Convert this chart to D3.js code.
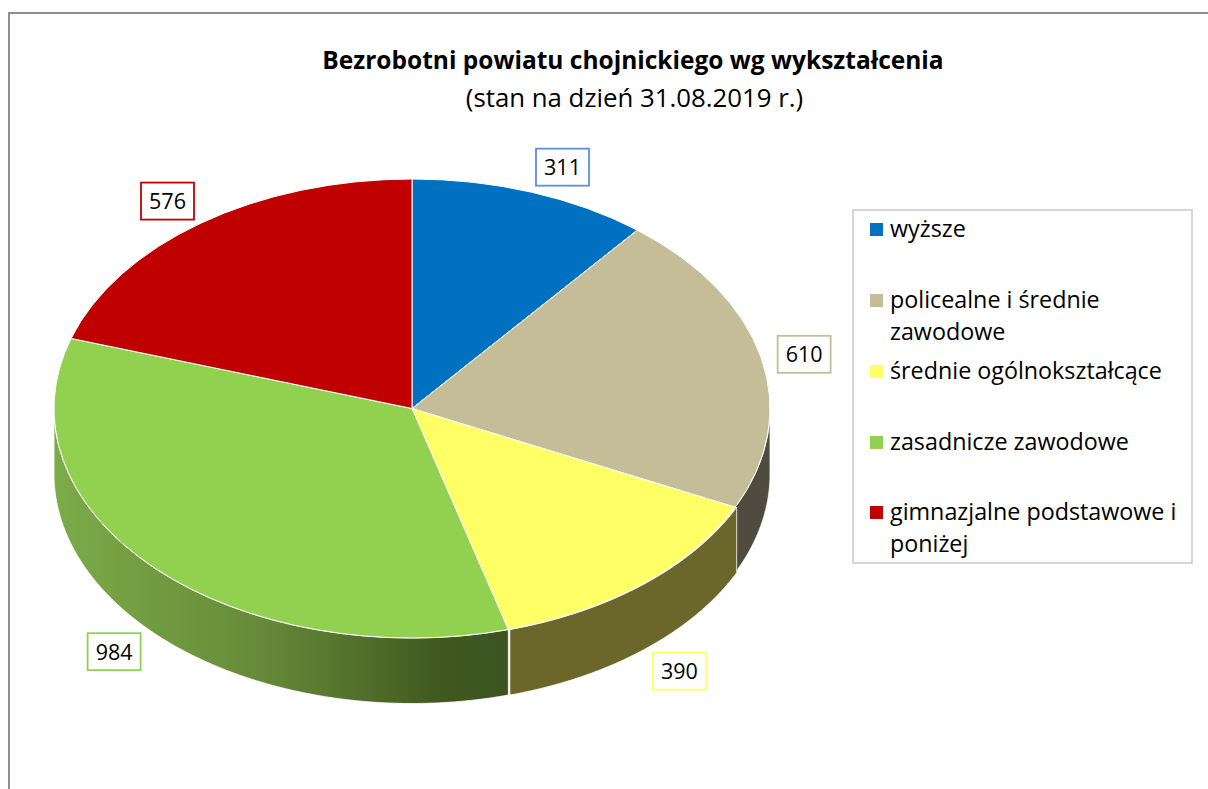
<!DOCTYPE html>
<html>
<head>
<meta charset="utf-8">
<style>
  html, body { margin: 0; background: #fff; }
  svg { display: block; font-family: "Open Sans", Lato, sans-serif; }
</style>
<script src="https://cdn.jsdelivr.net/npm/d3@7"></script>
</head>
<body>
<div id="chart-container"></div>
<script>
const categories = [
  'wyższe',
  'policealne i średnie zawodowe',
  'średnie ogólnokształcące',
  'zasadnicze zawodowe',
  'gimnazjalne podstawowe i poniżej'
];
const values = [311, 610, 390, 984, 576];
const topColors = ['#0070c0', '#c4bd97', '#ffff66', '#92d050', '#c00000'];
const labelBorders = ['#5b8fdb', '#c4bd97', '#ffff66', '#92d050', '#c00000'];
const legendLines = [
  ['wyższe'],
  ['policealne i średnie', 'zawodowe'],
  ['średnie ogólnokształcące'],
  ['zasadnicze zawodowe'],
  ['gimnazjalne podstawowe i', 'poniżej']
];

const width = 1208;
const height = 789;
const cx = 412;
const cy = 408.5;
const rx = 358;
const ry = 229.5;
const depth = 65.5;

const svg = d3.select('#chart-container')
    .append('svg')
    .attr('width', width)
    .attr('height', height);

// Frame runs off the right and bottom of the picture
svg.append('rect')
    .attr('x', 9)
    .attr('y', 13)
    .attr('width', width + 20)
    .attr('height', height + 20)
    .attr('fill', 'none')
    .attr('stroke', '#8f8f8f')
    .attr('stroke-width', 2);

displayTitle();

const slices = d3.pie().sort(null).value(d => d)(values);
const rimX = a => cx + rx * Math.sin(a);
const rimY = a => cy - ry * Math.cos(a);

displaySides();
displayTop();
displayLabels();
displayLegend();

function displayTitle() {
  svg.append('text')
      .text('Bezrobotni powiatu chojnickiego wg wykształcenia')
      .attr('x', 633)
      .attr('y', 69)
      .attr('text-anchor', 'middle')
      .attr('font-size', 24.5)
      .attr('font-weight', 'bold')
      .attr('fill', '#000');

  svg.append('text')
      .text('(stan na dzień 31.08.2019 r.)')
      .attr('x', 634.5)
      .attr('y', 107)
      .attr('text-anchor', 'middle')
      .attr('font-size', 25.8)
      .attr('fill', '#000');
}

function displaySides() {
  const defs = svg.append('defs');
  const gradient = defs.append('linearGradient')
      .attr('id', 'green-side')
      .attr('gradientUnits', 'userSpaceOnUse')
      .attr('x1', rimX(-Math.PI / 2))
      .attr('x2', rimX(slices[3].startAngle))
      .attr('y1', 0)
      .attr('y2', 0);
  gradient.append('stop').attr('offset', 0).attr('stop-color', '#7cab48');
  gradient.append('stop').attr('offset', 0.45).attr('stop-color', '#668b39');
  gradient.append('stop').attr('offset', 0.85).attr('stop-color', '#41591f');
  gradient.append('stop').attr('offset', 1).attr('stop-color', '#3b5320');

  const sideFills = [null, '#4f4c3f', '#6b662a', 'url(#green-side)', null];
  const sideShift = [0, 0, 1.5, 0, 0];
  const side = d3.area()
      .x(a => rimX(a))
      .y0(a => rimY(a))
      .y1(a => rimY(a) + depth);

  slices.forEach((s, i) => {
    if (!sideFills[i]) return;
    // Only the part of the wall on the front half of the ellipse shows
    const from = Math.max(s.startAngle, Math.PI / 2);
    const to = Math.min(s.endAngle, Math.PI * 1.5);
    const angles = d3.range(0, 121).map(k => from + (to - from) * k / 120);
    svg.append('path')
        .attr('d', side(angles))
        .attr('transform', `translate(${sideShift[i]},0)`)
        .attr('fill', sideFills[i])
        .attr('stroke', '#fff')
        .attr('stroke-width', 0.8);
  });
}

function displayTop() {
  const arc = d3.arc().innerRadius(0).outerRadius(rx);
  const top = svg.append('g')
      .attr('transform', `translate(${cx},${cy}) scale(1,${ry / rx})`);

  top.selectAll('path')
      .data(slices)
      .join('path')
      .attr('d', arc)
      .attr('fill', (d, i) => topColors[i])
      .attr('stroke', '#fff')
      .attr('stroke-width', 1)
      .attr('vector-effect', 'non-scaling-stroke');
}

function displayLabels() {
  // Box centre relative to the rim point at the middle of each slice
  const offsets = [[31, -25], [43, -3.5], [37, 87], [-40, 84], [-33.5, -22]];
  const boxWidth = 53;
  const boxHeight = 37;

  slices.forEach((s, i) => {
    const mid = (s.startAngle + s.endAngle) / 2;
    const x = rimX(mid) + offsets[i][0];
    const y = rimY(mid) + offsets[i][1];

    svg.append('rect')
        .attr('x', x - boxWidth / 2)
        .attr('y', y - boxHeight / 2)
        .attr('width', boxWidth)
        .attr('height', boxHeight)
        .attr('fill', '#fff')
        .attr('stroke', labelBorders[i])
        .attr('stroke-width', 1.8);

    svg.append('text')
        .text(values[i])
        .attr('x', x)
        .attr('y', y + 8)
        .attr('text-anchor', 'middle')
        .attr('font-size', 21.5)
        .attr('fill', '#000');
  });
}

function displayLegend() {
  const legendTop = 210;
  const rowTops = [228, 299, 370, 441, 511];
  const lineHeight = 32;

  svg.append('rect')
      .attr('x', 853)
      .attr('y', legendTop)
      .attr('width', 339)
      .attr('height', 353)
      .attr('fill', '#fff')
      .attr('stroke', '#c6c6c6')
      .attr('stroke-width', 1.4);

  categories.forEach((c, i) => {
    svg.append('rect')
        .attr('x', 870)
        .attr('y', rowTops[i] - 5)
        .attr('width', 13)
        .attr('height', 13)
        .attr('fill', topColors[i]);

    legendLines[i].forEach((line, k) => {
      svg.append('text')
          .text(line)
          .attr('x', 890)
          .attr('y', rowTops[i] + 9 + k * lineHeight)
          .attr('font-size', 23.3)
          .attr('fill', '#000');
    });
  });
}
</script>
</body>
</html>
